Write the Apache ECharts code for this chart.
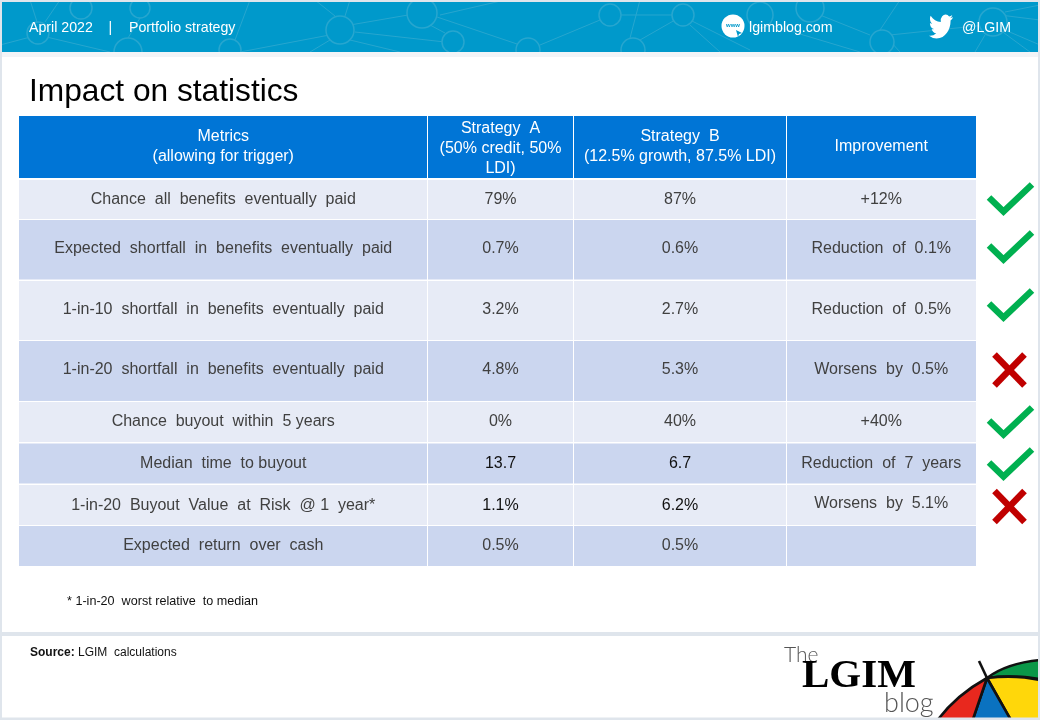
<!DOCTYPE html>
<html><head><meta charset="utf-8">
<style>html,body{margin:0;padding:0;background:#fff}#c{width:1040px;height:720px}</style>
<script src="https://cdn.jsdelivr.net/npm/echarts@6/dist/echarts.min.js"></script>
</head><body><div id="c"></div>
<script>
// ---- table content ----
const headers = ["Metrics\n(allowing for trigger)", "Strategy  A\n(50% credit, 50%\nLDI)", "Strategy  B\n(12.5% growth, 87.5% LDI)", "Improvement"];
const metrics = ["Chance  all  benefits  eventually  paid", "Expected  shortfall  in  benefits  eventually  paid", "1-in-10  shortfall  in  benefits  eventually  paid", "1-in-20  shortfall  in  benefits  eventually  paid", "Chance  buyout  within  5 years", "Median  time  to buyout", "1-in-20  Buyout  Value  at  Risk  @ 1  year*", "Expected  return  over  cash"];
const strategyA = ["79%", "0.7%", "3.2%", "4.8%", "0%", "13.7", "1.1%", "0.5%"];
const strategyB = ["87%", "0.6%", "2.7%", "5.3%", "40%", "6.7", "6.2%", "0.5%"];
const improvement = ["+12%", "Reduction  of  0.1%", "Reduction  of  0.5%", "Worsens  by  0.5%", "+40%", "Reduction  of  7  years", "Worsens  by  5.1%", ""];
const verdict = [1, 1, 1, 0, 1, 1, 0, null];

// ---- layout ----
const colEdges = [19, 427.5, 573.5, 786.5, 976];
const rowEdges = [[116,178],[180,219],[220,279.5],[281,340],[341,401],[402,442],[443.5,483.5],[485,525],[526,566]];
const textMid = [null,199.5,249,310,370,421.5,463.5,506,545.5];
const markMid = [null,199,247,305,370,422,464,506.5,null];

const FONT = '"Liberation Sans", Arial, sans-serif';

const cells = [];
headers.forEach((t,c)=>cells.push({value:[c,0],text:t,kind:'head'}));
metrics.forEach((m,r)=>{
  [m,strategyA[r],strategyB[r],improvement[r]].forEach((t,c)=>cells.push({value:[c,r+1],text:t,kind:(r%2?'even':'odd')}));
});

function renderCell(params,api){
  const d = cells[params.dataIndex];
  const c = d.value[0], r = d.value[1];
  const p0 = api.coord([colEdges[c]+(c?0.5:0), rowEdges[r][0]]);
  const p1 = api.coord([colEdges[c+1]-0.5+(c==3?0.5:0), rowEdges[r][1]]);
  const fill = d.kind==='head' ? '#0075d6' : d.kind==='odd' ? '#e7ebf6' : '#cbd6ef';
  const isHead = d.kind==='head';
  let col = isHead ? '#ffffff' : '#404040';
  let my = isHead ? (c===1 ? 149 : 147) : textMid[r];
  if(!isHead && (r===6||r===7) && (c===1||c===2)) col = '#111111';
  if(r===7 && c===3) my = 504;
  const mid = api.coord([(colEdges[c]+colEdges[c+1])/2, my]);
  return {type:'group',children:[
    {type:'rect',shape:{x:p0[0],y:p0[1],width:p1[0]-p0[0],height:p1[1]-p0[1]},style:{fill}},
    {type:'text',style:{x:mid[0],y:mid[1],text:d.text,fill:col,font:'16px '+FONT,align:'center',verticalAlign:'middle',lineHeight:20}}
  ]};
}

const marks = verdict.map((v,i)=>v===null?null:{value:[i+1,v]}).filter(Boolean);
function renderMark(params,api){
  const r = api.value(0), ok = api.value(1);
  const c = api.coord([1010, markMid[r]]);
  const pts = ok
    ? [[[c[0]-21,c[1]-1.5],[c[0]-6.5,c[1]+12.5],[c[0]+22,c[1]-14.5]]]
    : [[[c[0]-15.5,c[1]-15.5],[c[0]+14.5,c[1]+15.5]],[[c[0]+14.5,c[1]-15.5],[c[0]-15.5,c[1]+15.5]]];
  return {type:'group',children:pts.map(p=>({type:'polyline',shape:{points:p},style:{fill:'none',stroke:ok?'#00b050':'#c00000',lineWidth:6.5,lineJoin:'miter',lineCap:'butt'}}))};
}

// ---- decoration: banner network ----
const NET = '#27a6cf';
const netCircles = [[38,33,11],[81,8,11],[128,52,14],[230,50,11],[340,30,14],[422,13,15],[453,42,11],[528,50,12],[610,15,11],[683,15,11],[633,50,12],[760,15,13],[810,8,14],[882,42,12],[993,22,14],[140,8,10]];
const netLines = [[0,45,38,35],[38,35,110,52],[30,0,38,25],[60,0,45,22],[140,18,128,38],[250,0,235,40],[240,52,340,33],[350,25,408,15],[437,17,520,45],[355,32,445,42],[350,40,400,52],[330,40,310,52],[315,0,335,16],[350,0,345,16],[430,25,445,33],[505,0,440,15],[540,45,600,20],[620,15,672,15],[690,25,720,52],[640,0,630,38],[640,40,675,20],[690,20,750,50],[770,25,860,52],[820,15,870,35],[890,35,985,25],[900,52,880,30],[1000,15,1040,20],[1000,30,1030,52],[985,35,975,52],[1005,30,1040,45],[1005,12,1040,5],[900,0,880,30]];

const graphicEls = [];
function rect(x,y,w,h,fill,z){graphicEls.push({type:'rect',silent:true,shape:{x,y,width:w,height:h},style:{fill},z});}
rect(2,2,1036,50,'#0099cb',1);
netLines.forEach(l=>graphicEls.push({type:'line',silent:true,shape:{x1:l[0],y1:l[1],x2:l[2],y2:l[3]},style:{stroke:NET,lineWidth:1},z:2}));
netCircles.forEach(c=>graphicEls.push({type:'circle',silent:true,shape:{cx:c[0],cy:c[1],r:c[2]},style:{fill:'#0099cb',stroke:NET,lineWidth:1.5},z:3}));
rect(2,57,1036,662,'#ffffff',4);
rect(2,52,1036,5,'#f2f4f7',4);
rect(0,0,1040,2,'#dfe5ec',4);
rect(0,0,2,720,'#dfe5ec',4);
rect(1038,0,2,720,'#dfe5ec',8);
rect(0,632,1040,4,'#dfe5ec',4);
rect(0,717.5,1040,2.5,'#dfe5ec',8);

function txt(x,y,t,font,fill,extra){graphicEls.push({type:'text',silent:true,z:6,style:Object.assign({x,y,text:t,font,fill,verticalAlign:'middle'},extra||{})});}
txt(29,28,'April 2022','14.2px '+FONT,'#fff');
txt(108.5,28,'|','14.2px '+FONT,'#fff');
txt(129,28,'Portfolio strategy','14.2px '+FONT,'#fff');
txt(749,28,'lgimblog.com','14.2px '+FONT,'#fff');
txt(962,28,'@LGIM','14.2px '+FONT,'#fff');
graphicEls.push({type:'circle',silent:true,z:6,shape:{cx:733,cy:26,r:11.5},style:{fill:'#fff'}});
txt(733,25,'www','bold 6px '+FONT,'#0099cb',{align:'center'});
graphicEls.push({type:'polygon',silent:true,z:7,shape:{points:[[736,30],[742,33],[739,34],[738,37]]},style:{fill:'#0099cb'}});

txt(29,92,'Impact on statistics','31.7px '+FONT,'#000');
txt(67,602,'* 1-in-20  worst relative  to median','12.6px '+FONT,'#111');
graphicEls.push({type:'text',silent:true,z:6,style:{x:30,y:653,verticalAlign:'middle',text:'{b|Source:} {n|LGIM  calculations}',rich:{b:{font:'bold 12px '+FONT,fill:'#111'},n:{font:'12px '+FONT,fill:'#111'}}}});

// ---- decoration: logo ----
txt(784,655,'The','300 21px Lato, "Open Sans", sans-serif','#555');
txt(802,676,'LGIM','bold 41px "Liberation Serif", serif','#000');
txt(884,703,'blog','300 27px Lato, "Open Sans", sans-serif','#555');
const BIRD = 'M23.953 4.57a10 10 0 0 1-2.825.775 4.958 4.958 0 0 0 2.163-2.723c-.951.555-2.005.959-3.127 1.184a4.92 4.92 0 0 0-8.384 4.482C7.69 8.095 4.067 6.13 1.64 3.162a4.822 4.822 0 0 0-.666 2.475c0 1.71.87 3.213 2.188 4.096a4.904 4.904 0 0 1-2.228-.616v.06a4.923 4.923 0 0 0 3.946 4.827 4.996 4.996 0 0 1-2.212.085 4.936 4.936 0 0 0 4.604 3.417 9.867 9.867 0 0 1-6.102 2.105c-.39 0-.779-.023-1.17-.067a13.995 13.995 0 0 0 7.557 2.209c9.053 0 13.998-7.496 13.998-13.985 0-.21 0-.42-.015-.63A9.935 9.935 0 0 0 24 4.59z';
const UMB = [
  ['M987 678 C1000 668 1020 662 1040 660 L1040 679 C1022 676 1003 676 987 678 Z','#0a9748'],
  ['M987 678 C1003 676 1022 676 1040 680 L1040 722 L1012 722 Z','#ffd70a'],
  ['M987 678 L1012 722 L972 722 Z','#0a72c0'],
  ['M987 678 L972 722 L936 722 C950 703 967 689 987 678 Z','#e8281e']
];
function renderDecor(){
  const kids = [{type:'path',shape:{pathData:BIRD,x:929,y:14.5,width:24,height:24,layout:'cover'},style:{fill:'#fff'}}];
  UMB.forEach(u=>kids.push({type:'path',shape:{pathData:u[0]},style:{fill:u[1],stroke:'#111',lineWidth:2.6,lineJoin:'round'}}));
  kids.push({type:'line',shape:{x1:979,y1:661,x2:987,y2:678},style:{stroke:'#111',lineWidth:2.6}});
  return {type:'group',children:kids};
}

const chart = echarts.init(document.getElementById('c'),null,{renderer:'canvas',width:1040,height:720});
chart.setOption({
  animation:false,
  backgroundColor:'#ffffff',
  grid:{left:0,right:0,top:0,bottom:0},
  xAxis:{type:'value',min:0,max:1040,show:false},
  yAxis:{type:'value',min:0,max:720,inverse:true,show:false},
  graphic:{elements:graphicEls},
  series:[
    {type:'custom',clip:false,silent:true,data:[[0,0]],renderItem:renderDecor,z:5},
    {type:'custom',clip:false,silent:true,data:cells.map(d=>d.value),renderItem:renderCell,z:20},
    {type:'custom',clip:false,silent:true,data:marks.map(d=>d.value),renderItem:renderMark,z:21}
  ]
});
</script></body></html>
